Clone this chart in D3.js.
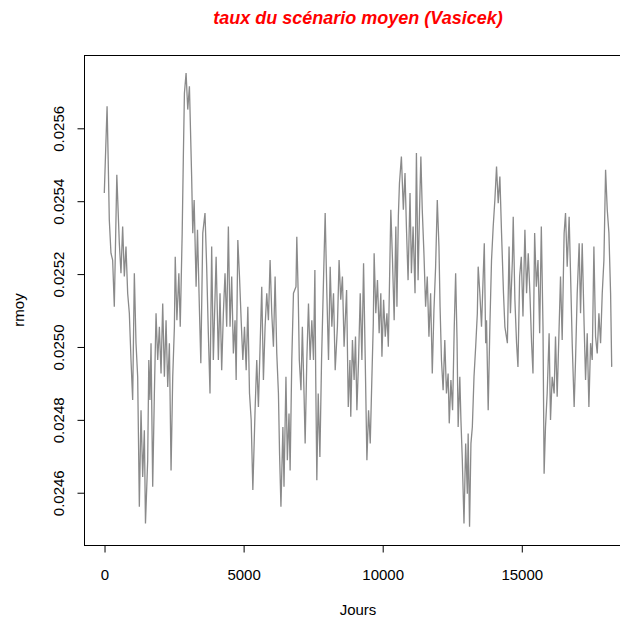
<!DOCTYPE html>
<html lang="fr">
<head>
<meta charset="UTF-8">
<title>taux du scénario moyen (Vasicek)</title>
<script src="https://d3js.org/d3.v7.min.js"></script>
<style>
  body { margin: 0; background: #fff; }
  svg { display: block; font-family: "Liberation Sans", Arial, sans-serif; }
</style>
</head>
<body>
<div id="chart"></div>
<script>
// jours (x) et taux moyen (y)
const jours = [
  10,110,150,190,250,310,370,460,550,610,
  670,730,790,850,910,970,1030,1090,1150,1210,
  1270,1330,1390,1450,1490,1570,1610,1650,1690,1750,
  1810,1870,1930,1990,2050,2110,2170,2230,2290,2350,
  2410,2470,2530,2560,2620,2690,2740,2810,2850,2890,
  2950,3010,3070,3150,3190,3240,3310,3360,3430,3480,
  3550,3630,3690,3750,3810,3870,3930,4030,4110,4170,
  4230,4290,4350,4410,4470,4530,4590,4650,4710,4750,
  4810,4870,4930,4990,5050,5110,5170,5230,5290,5350,
  5430,5490,5550,5610,5670,5730,5790,5850,5910,5970,
  6030,6090,6150,6210,6270,6310,6360,6430,6470,6540,
  6590,6650,6690,6750,6810,6900,6930,6980,7020,7080,
  7130,7190,7230,7290,7350,7410,7470,7530,7580,7610,
  7650,7700,7760,7820,7890,7950,8010,8070,8130,8190,
  8250,8310,8390,8450,8510,8570,8630,8720,8780,8840,
  8870,8930,8990,9040,9090,9150,9210,9270,9330,9390,
  9450,9510,9570,9630,9680,9710,9770,9830,9890,9950,
  9990,10050,10110,10170,10220,10260,10310,10370,10430,10490,
  10530,10580,10620,10690,10760,10820,10870,10930,11000,11050,
  11110,11180,11230,11290,11340,11390,11440,11500,11560,11620,
  11680,11740,11800,11860,11920,11980,12040,12080,12130,12190,
  12250,12310,12370,12410,12470,12530,12590,12640,12690,12730,
  12790,12830,12880,12940,13000,13060,13090,13140,13190,13240,
  13300,13360,13420,13450,13510,13570,13630,13670,13720,13750,
  13810,13870,13930,13990,14050,14110,14170,14230,14290,14360,
  14410,14500,14560,14610,14680,14710,14770,14830,14880,14940,
  15000,15060,15130,15190,15250,15310,15370,15420,15480,15540,
  15600,15660,15720,15780,15820,15870,15930,16000,16050,16110,
  16180,16230,16290,16360,16410,16470,16540,16590,16650,16720,
  16770,16830,16900,16950,17010,17080,17130,17190,17260,17310,
  17370,17430,17490,17550,17610,17670,17730,17790,17850,17910,
  17970,18030,18090,18150,18210,18250
];

const rmoy = [
  0.025421,0.025659,0.025512,0.025347,0.025256,0.025237,0.025109,0.025471,0.025283,0.025201,
  0.025329,0.025192,0.025274,0.025146,0.025091,0.024963,0.024853,0.025201,0.025009,0.024917,
  0.024560,0.024825,0.024642,0.024770,0.024514,0.024688,0.024963,0.024853,0.025009,0.024615,
  0.024871,0.025091,0.024963,0.025054,0.024926,0.025118,0.024917,0.025072,0.024889,0.025009,
  0.024660,0.024917,0.025054,0.025246,0.025072,0.025201,0.025054,0.025311,0.025512,0.025695,
  0.025750,0.025650,0.025714,0.025466,0.025311,0.025402,0.025164,0.025320,0.025100,0.024954,
  0.025311,0.025366,0.025219,0.025036,0.024871,0.025274,0.024963,0.025246,0.024963,0.025146,
  0.024935,0.025091,0.025201,0.025054,0.025329,0.025054,0.025192,0.024981,0.025072,0.024908,
  0.025292,0.025192,0.025072,0.024963,0.025054,0.024935,0.025109,0.024871,0.024798,0.024606,
  0.024825,0.024963,0.024834,0.024999,0.025164,0.024908,0.025054,0.025146,0.025072,0.025237,
  0.025091,0.024999,0.025192,0.024981,0.024871,0.024706,0.024560,0.024779,0.024615,0.024917,
  0.024688,0.024816,0.024660,0.024963,0.025146,0.025164,0.025301,0.025146,0.024963,0.024880,
  0.025054,0.024871,0.024734,0.024963,0.025118,0.024963,0.025072,0.024963,0.025210,0.024917,
  0.024633,0.024871,0.024697,0.024963,0.025182,0.025366,0.025146,0.024963,0.025219,0.025054,
  0.025146,0.024935,0.025054,0.025237,0.025128,0.025192,0.024999,0.025155,0.024834,0.024963,
  0.024807,0.025018,0.024908,0.025027,0.024825,0.024963,0.025146,0.024963,0.025228,0.024963,
  0.024688,0.024825,0.024734,0.024917,0.025064,0.025256,0.025091,0.025182,0.025036,0.025146,
  0.024972,0.025128,0.025027,0.025091,0.024999,0.025164,0.025375,0.025237,0.025072,0.025329,
  0.025109,0.025356,0.025448,0.025521,0.025375,0.025476,0.025329,0.025182,0.025421,0.025201,
  0.025329,0.025146,0.025531,0.025182,0.025366,0.025521,0.025375,0.025256,0.025109,0.025192,
  0.025027,0.025146,0.024926,0.025100,0.025219,0.025402,0.025274,0.025109,0.024963,0.024880,
  0.025018,0.024871,0.024926,0.024789,0.024908,0.024825,0.025054,0.025201,0.025018,0.024779,
  0.024917,0.024798,0.024688,0.024514,0.024734,0.024596,0.024761,0.024505,0.024734,0.024779,
  0.024917,0.024999,0.025091,0.025219,0.025146,0.025054,0.025192,0.025283,0.025009,0.025072,
  0.024825,0.025054,0.025237,0.025329,0.025402,0.025494,0.025393,0.025466,0.025311,0.025146,
  0.025054,0.025009,0.025274,0.025091,0.025237,0.025356,0.025128,0.025009,0.024944,0.025192,
  0.025246,0.025082,0.025320,0.025146,0.025256,0.025146,0.025009,0.024926,0.025311,0.025164,
  0.025237,0.025036,0.025329,0.025054,0.024651,0.024779,0.024871,0.025036,0.024798,0.024917,
  0.024871,0.025027,0.024862,0.025054,0.025192,0.025018,0.025311,0.025366,0.025219,0.025356,
  0.025201,0.025009,0.024834,0.024963,0.025146,0.025283,0.025091,0.025283,0.025054,0.024908,
  0.025036,0.024834,0.025009,0.024963,0.025274,0.025027,0.024981,0.025091,0.025009,0.025146,
  0.025237,0.025485,0.025375,0.025311,0.025146,0.024944
];

const xTicks = [0, 5000, 10000, 15000];
const yTicks = [0.0246, 0.0248, 0.0250, 0.0252, 0.0254, 0.0256];

const width = 620, height = 622;
const plot = { left: 84, right: 632, top: 55, bottom: 545 };

const data = jours.map((j, i) => ({ j: j, r: rmoy[i] }));

// comme R : étendue des données + 4 % de chaque côté
function pad(ext) {
  const d = (ext[1] - ext[0]) * 0.04;
  return [ext[0] - d, ext[1] + d];
}

const x = d3.scaleLinear()
  .domain(pad(d3.extent(jours)))
  .range([plot.left, plot.right]);

const y = d3.scaleLinear()
  .domain(pad(d3.extent(rmoy)))
  .range([plot.bottom, plot.top]);

const svg = d3.select('#chart')
  .append('svg')
  .attr('width', width)
  .attr('height', height);

svg.append('rect')
  .attr('width', width)
  .attr('height', height)
  .attr('fill', '#fff');

const line = d3.line()
  .x(d => x(d.j))
  .y(d => y(d.r));

svg.append('path')
  .datum(data)
  .attr('d', line)
  .attr('fill', 'none')
  .attr('stroke', '#8a8a8a')
  .attr('stroke-width', 1.3)
  .attr('stroke-linejoin', 'bevel');

// cadre
svg.append('rect')
  .attr('x', plot.left + 0.5)
  .attr('y', plot.top + 0.5)
  .attr('width', plot.right - plot.left)
  .attr('height', plot.bottom - plot.top)
  .attr('fill', 'none')
  .attr('stroke', '#000')
  .attr('stroke-width', 1);

// axe des x
const xAxis = d3.axisBottom(x)
  .tickValues(xTicks)
  .tickFormat(d3.format('d'))
  .tickSize(7)
  .tickSizeOuter(0)
  .tickPadding(17);

const gx = svg.append('g')
  .attr('transform', `translate(0.5,${plot.bottom + 0.5})`)
  .call(xAxis);
gx.select('.domain')
  .attr('d', `M${x(xTicks[0])},0H${x(xTicks[xTicks.length - 1])}`)
  .attr('stroke', '#000');
gx.selectAll('.tick line').attr('stroke', '#000');
gx.selectAll('.tick text')
  .attr('fill', '#000')
  .style('font-size', '15px')
  .style('font-family', '"Liberation Sans", Arial, sans-serif');

// axe des y
const yAxis = d3.axisLeft(y)
  .tickValues(yTicks)
  .tickFormat(d3.format('.4f'))
  .tickSize(7)
  .tickSizeOuter(0);

const gy = svg.append('g')
  .attr('transform', `translate(${plot.left + 0.5},0.5)`)
  .call(yAxis);
gy.select('.domain')
  .attr('d', `M0,${y(yTicks[0])}V${y(yTicks[yTicks.length - 1])}`)
  .attr('stroke', '#000');
gy.selectAll('.tick line').attr('stroke', '#000');
gy.selectAll('.tick text')
  .attr('x', null)
  .attr('dy', null)
  .attr('fill', '#000')
  .attr('text-anchor', 'middle')
  .attr('transform', 'translate(-21,0) rotate(-90)')
  .style('font-size', '15px')
  .style('font-family', '"Liberation Sans", Arial, sans-serif');

// titres
svg.append('text')
  .attr('x', (plot.left + plot.right) / 2)
  .attr('y', 24)
  .attr('text-anchor', 'middle')
  .attr('fill', '#ff0000')
  .style('font-size', '18px')
  .style('font-weight', 'bold')
  .style('font-style', 'italic')
  .text('taux du scénario moyen (Vasicek)');

svg.append('text')
  .attr('x', (plot.left + plot.right) / 2)
  .attr('y', 615)
  .attr('text-anchor', 'middle')
  .attr('fill', '#000')
  .style('font-size', '15px')
  .text('Jours');

svg.append('text')
  .attr('transform', 'translate(24,310) rotate(-90)')
  .attr('text-anchor', 'middle')
  .attr('fill', '#000')
  .style('font-size', '15px')
  .text('rmoy');
</script>
</body>
</html>
